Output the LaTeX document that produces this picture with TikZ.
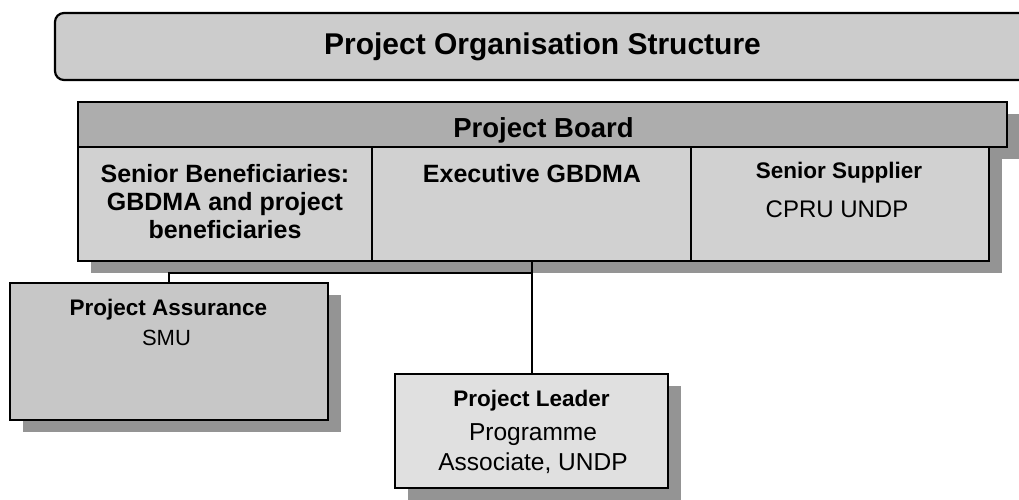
\documentclass[tikz,border=0pt]{standalone}
\usepackage{fontspec}
\setmainfont{Liberation Sans}
\usetikzlibrary{shadows}
\usetikzlibrary{positioning}
\definecolor{titlegray}{gray}{0.80}
\definecolor{headgray}{gray}{0.68}
\definecolor{cellgray}{gray}{0.82}
\definecolor{leadgray}{gray}{0.88}
\definecolor{shadegray}{gray}{0.58}

\begin{document}
\begin{tikzpicture}[x=1pt,y=-1pt,every node/.style={inner sep=0pt,outer sep=0pt},
  box/.style={draw,line width=2.2pt,fill=cellgray,anchor=north west,
    drop shadow={shadow xshift=13pt,shadow yshift=-12pt,fill=shadegray,opacity=1}},
  bold/.style={font=\bfseries\fontsize{22.5}{27}\selectfont,anchor=base,align=center},
  plain/.style={font=\fontsize{24.5}{30}\selectfont,anchor=base,align=center}]
  \useasboundingbox (0,0) rectangle (1019,499);
  \clip (0,0) rectangle (1019,499);

  \node (title) at (55,13)[draw,line width=2.2pt,rounded corners=9pt,fill=titlegray,anchor=north west,
    minimum width=975pt,minimum height=67pt,font=\bfseries\fontsize{30}{36}\selectfont]{Project Organisation Structure};

  % board: header first, then the three cells under it
  \node (pb) at (78,102)[box,fill=headgray,minimum width=929pt,minimum height=45pt]{};
  \node[box,below right=0pt of pb.south west,minimum width=294pt,minimum height=114pt](sb){};
  \node[box,right=0pt of sb,minimum width=319pt,minimum height=114pt](ex){};
  \node[box,right=0pt of ex,minimum width=298pt,minimum height=114pt](ss){};

  \node (pa) at (10,283)[box,fill=cellgray!95!black,minimum width=318pt,minimum height=137pt]{};
  \node (pl) at (395,374)[box,fill=leadgray,minimum width=273pt,minimum height=114pt]{};

  % multi-line texts sit on the baseline of their last line
  \node (pb-t) at (543.5,137)[bold,font=\bfseries\fontsize{27.5}{33}\selectfont]{Project Board};
  \node (sb-t) at (225,238)[bold,font=\bfseries\fontsize{25}{28}\selectfont]{Senior Beneficiaries:\\GBDMA and project\\beneficiaries};
  \node (ex-t) at (532,182)[bold,font=\bfseries\fontsize{25}{28}\selectfont]{Executive GBDMA};
  \node (ss-t) at (839,178)[bold]{Senior Supplier};
  \node (ss-n) at (837,217)[plain,font=\fontsize{24}{29}\selectfont]{CPRU UNDP};
  \node (pa-t) at (168.5,315)[bold]{Project Assurance};
  \node (pa-n) at (166.5,345)[plain,font=\fontsize{22}{26}\selectfont]{SMU};
  \node (pl-t) at (531.5,406)[bold]{Project Leader};
  \node (pl-n) at (533,470)[plain]{Programme\\Associate, UNDP};

  \draw[line width=2pt](ex.south)--++(0,12)-|(pa.north);
  \draw[line width=2pt](ex.south)--(pl.north);
\end{tikzpicture}
\end{document}
